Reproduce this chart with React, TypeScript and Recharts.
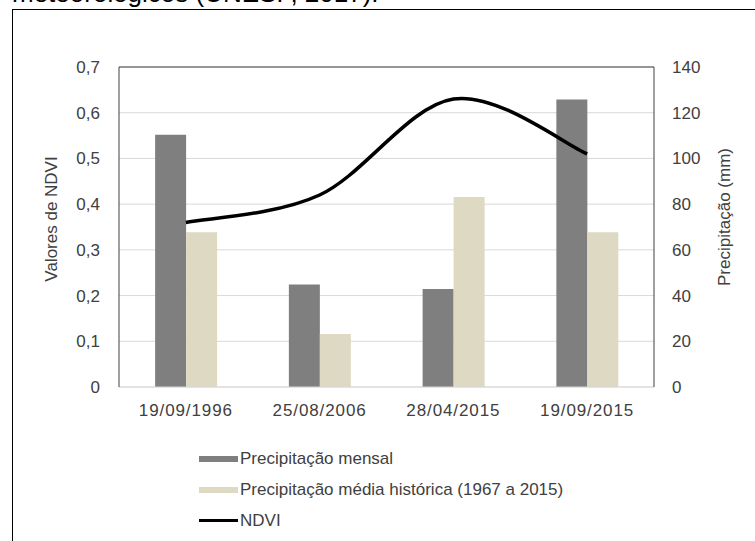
import React from 'react';
import { ComposedChart, Bar, Line, XAxis, YAxis, CartesianGrid, Legend, ReferenceLine } from 'recharts';

const CATEGORIES = ['19/09/1996', '25/08/2006', '28/04/2015', '19/09/2015'];
const PRECIP_MENSAL = [110.4, 44.8, 42.9, 125.8];
const PRECIP_HISTORICA = [67.7, 23.2, 83.1, 67.7];
const NDVI = [0.36, 0.42, 0.63, 0.51];
const LEFT_TICKS = [0, 0.1, 0.2, 0.3, 0.4, 0.5, 0.6, 0.7];
const RIGHT_TICKS = [0, 20, 40, 60, 80, 100, 120, 140];
const SERIES_NAMES = ['Precipitação mensal', 'Precipitação média histórica (1967 a 2015)', 'NDVI'];
const CAPTION = 'meteorológicos (UNESP, 2017).';

const data = CATEGORIES.map((c, i) => ({
  date: c,
  mensal: PRECIP_MENSAL[i],
  historica: PRECIP_HISTORICA[i],
  ndvi: NDVI[i],
}));

const FONT = '"Liberation Sans", Arial, sans-serif';
const TEXT = '#404040';
const GRAY = '#7f7f7f';
const BEIGE = '#ddd9c3';

// Excel-like smoothing (Catmull-Rom through the points)
function excelCurve(context: any) {
  let pts: number[][] = [];
  return {
    areaStart() {},
    areaEnd() {},
    lineStart() { pts = []; },
    point(x: number, y: number) { pts.push([+x, +y]); },
    lineEnd() {
      const n = pts.length;
      if (!n) return;
      context.moveTo(pts[0][0], pts[0][1]);
      for (let i = 0; i < n - 1; i++) {
        const p0 = pts[Math.max(i - 1, 0)];
        const p1 = pts[i];
        const p2 = pts[i + 1];
        const p3 = pts[Math.min(i + 2, n - 1)];
        context.bezierCurveTo(
          p1[0] + (p2[0] - p0[0]) / 6, p1[1] + (p2[1] - p0[1]) / 6,
          p2[0] - (p3[0] - p1[0]) / 6, p2[1] - (p3[1] - p1[1]) / 6,
          p2[0], p2[1]
        );
      }
    },
  };
}

const AxisTitle = (props: any) => {
  const { viewBox, value, side } = props;
  const vb = viewBox || {};
  const cx = side === 'left' ? (vb.x ?? 0) + (vb.width ?? 119) - 68 : (vb.x ?? 654) + 70;
  const cy = (vb.y ?? 67) + (vb.height ?? 320) / 2 + (side === 'left' ? -8 : -10);
  return (
    <text
      x={cx}
      y={cy}
      transform={`rotate(-90 ${cx} ${cy})`}
      textAnchor="middle"
      dominantBaseline="central"
      fill={TEXT}
      fontSize={17}
      fontFamily={FONT}
    >
      {value}
    </text>
  );
};

const LegendContent = (props: any) => {
  const payload = [...(props.payload || [])].sort(
    (a: any, b: any) => SERIES_NAMES.indexOf(a.value) - SERIES_NAMES.indexOf(b.value)
  );
  return (
    <div style={{ fontFamily: FONT, fontSize: 17, color: TEXT }}>
      {payload.map((p: any, i: number) => {
        const isLine = p.dataKey === 'ndvi';
        return (
          <div key={i} style={{ height: 31, display: 'flex', alignItems: 'center', whiteSpace: 'nowrap' }}>
            <div style={{ width: 39, height: isLine ? 3 : 6, background: p.color }} />
            <span style={{ marginLeft: 2 }}>{p.value}</span>
          </div>
        );
      })}
    </div>
  );
};

const fmtLeft = (v: number) => (v === 0 ? '0' : v.toFixed(1).replace('.', ','));

export default function App() {
  return (
    <div style={{ position: 'absolute', left: 0, top: 0, width: 755, height: 541, background: '#fff', overflow: 'hidden' }}>
      <div
        style={{
          position: 'absolute', left: 12, top: -22.5, fontFamily: FONT, fontSize: 26, lineHeight: '30px',
          color: '#000', whiteSpace: 'nowrap',
        }}
      >
        {CAPTION}
      </div>
      <div style={{ position: 'absolute', left: 12, top: 9, width: 760, height: 540, borderLeft: '1px solid #000', borderTop: '1px solid #000' }} />
      <div style={{ position: 'absolute', left: 0, top: 0 }}>
        <ComposedChart
          width={755}
          height={541}
          data={data}
          margin={{ top: 67, right: 0, bottom: 124, left: 0 }}
          barCategoryGap="27%"
          barGap={0}
          style={{ fontFamily: FONT }}
        >
          <CartesianGrid vertical={false} stroke="#d9d9d9" yAxisId="left" />
          <XAxis
            dataKey="date"
            height={30}
            tickLine={false}
            tickMargin={11}
            axisLine={{ stroke: '#d9d9d9' }}
            tick={{ fill: TEXT, fontSize: 17, letterSpacing: 0.9 }}
            interval={0}
          />
          <YAxis
            yAxisId="left"
            orientation="left"
            width={119}
            domain={[0, 0.7]}
            ticks={LEFT_TICKS}
            tickFormatter={fmtLeft}
            tickLine={false}
            tickMargin={13}
            axisLine={{ stroke: '#404040' }}
            tick={{ fill: TEXT, fontSize: 17 }}
            label={<AxisTitle side="left" value="Valores de NDVI" />}
          />
          <YAxis
            yAxisId="right"
            orientation="right"
            width={101}
            domain={[0, 140]}
            ticks={RIGHT_TICKS}
            tickLine={false}
            tickMargin={12}
            axisLine={{ stroke: '#404040' }}
            tick={{ fill: TEXT, fontSize: 17 }}
            label={<AxisTitle side="right" value="Precipitação (mm)" />}
          />
          <ReferenceLine yAxisId="left" y={0.7} stroke="#404040" />
          <Bar yAxisId="right" dataKey="mensal" name={SERIES_NAMES[0]} fill={GRAY} isAnimationActive={false} />
          <Bar yAxisId="right" dataKey="historica" name={SERIES_NAMES[1]} fill={BEIGE} isAnimationActive={false} />
          <Line
            yAxisId="left"
            dataKey="ndvi"
            name={SERIES_NAMES[2]}
            type={excelCurve as any}
            stroke="#000"
            strokeWidth={3.5}
            dot={false}
            activeDot={false}
            isAnimationActive={false}
          />
          <Legend
            layout="horizontal"
            verticalAlign="middle"
            align="center"
            content={<LegendContent />}
            wrapperStyle={{ left: 199, top: 443, width: 430, height: 95 }}
          />
        </ComposedChart>
      </div>
    </div>
  );
}
